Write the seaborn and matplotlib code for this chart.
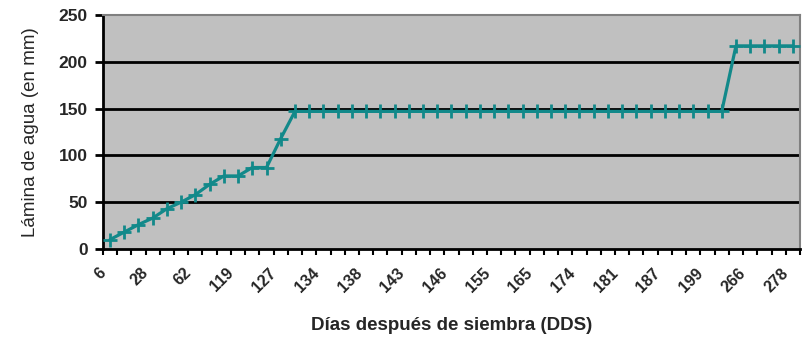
import numpy as np
import pandas as pd
import matplotlib
matplotlib.use("Agg")
import matplotlib.pyplot as plt
import matplotlib.transforms as mtransforms
import seaborn as sns
from matplotlib.ticker import FixedLocator

# Data
tick_labels = ["6", "28", "62", "119", "127", "134", "138", "143", "146",
               "155", "165", "174", "181", "187", "199", "266", "278"]
early_values = [10, 18, 26, 33, 43, 50, 58, 69, 78, 78, 87, 87, 118]
plateau_1 = [147] * 31
plateau_2 = [217] * 5
lamina = early_values + plateau_1 + plateau_2
label_step = 3
y_ticks = [0, 50, 100, 150, 200, 250]

df = pd.DataFrame({"idx": np.arange(len(lamina)), "lamina": lamina})

sns.set_theme(style="white")
plt.rcParams["font.family"] = ["Liberation Sans", "DejaVu Sans"]

fig = plt.figure(figsize=(8.04, 3.41), dpi=100)
ax_rect = [0.128, 0.270, 0.867, 0.686]
ax = fig.add_axes(ax_rect)
ax.set_facecolor("#c0c0c0")

teal = "#12898a"
sns.lineplot(data=df, x="idx", y="lamina", ax=ax, color=teal,
             linewidth=2.3, marker="+", markersize=10, markeredgewidth=2,
             markeredgecolor=teal, zorder=3)

n = len(lamina)
ax.set_xlim(-0.5, n - 0.5)
ax.set_ylim(0, 250)

for yv in y_ticks[1:-1]:
    ax.axhline(yv, color="black", linewidth=2, zorder=1)

ax.set_yticks(y_ticks)
ax.set_yticklabels([str(v) for v in y_ticks], fontsize=12.5, fontweight="bold")
ax.tick_params(axis="y", direction="out", length=6, width=2, color="black",
               pad=5, left=True)

label_pos = list(range(0, n, label_step))[:len(tick_labels)]
ax.set_xticks(label_pos)
ax.set_xticklabels(tick_labels, rotation=45, ha="right", va="top",
                   rotation_mode="anchor", fontsize=11.5, fontweight="bold")
ax.tick_params(axis="x", which="major", length=0, pad=6)
offset = mtransforms.ScaledTranslation(-12 / 100, -8 / 100, fig.dpi_scale_trans)
for lab in ax.get_xticklabels():
    lab.set_transform(lab.get_transform() + offset)
ax.xaxis.set_minor_locator(FixedLocator(np.arange(-0.5, n, 1.0)))
ax.tick_params(axis="x", which="minor", direction="out", length=4, width=1.5,
               color="black", bottom=True)

for side in ["left", "bottom"]:
    ax.spines[side].set_color("black")
    ax.spines[side].set_linewidth(2)
for side in ["top", "right"]:
    ax.spines[side].set_visible(True)
    ax.spines[side].set_color("#808080")
    ax.spines[side].set_linewidth(1.5)

ax.set_xlabel("Días después de siembra (DDS)", fontsize=13.5, fontweight="bold")
ax.set_ylabel("Lámina de agua (en mm)", fontsize=13.5)

# place axis labels (pixel targets converted to axes fractions)
ax_w = ax_rect[2] * 804
ax_h = ax_rect[3] * 341
ax.xaxis.set_label_coords((452 - 103) / ax_w, -(326 - 249) / ax_h)
ax.xaxis.label.set_va("center")
ax.yaxis.set_label_coords((31 - 103) / ax_w, 0.5)
ax.yaxis.label.set_va("center")

fig.savefig("out.png", dpi=100, facecolor="white")
